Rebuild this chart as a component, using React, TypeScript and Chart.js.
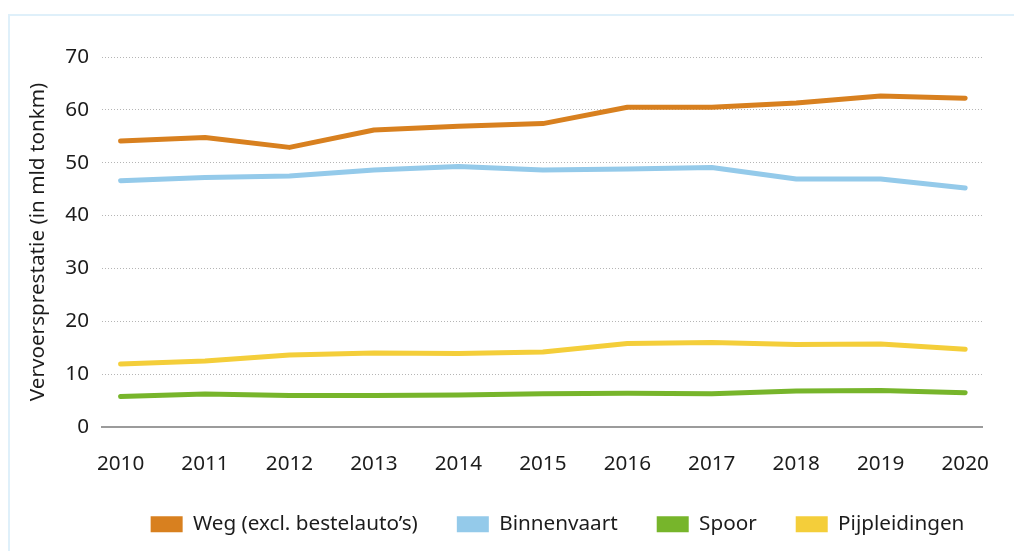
import React, { useEffect, useRef } from "react";
import { Chart, registerables } from "chart.js";

Chart.register(...registerables);

const years = ["2010", "2011", "2012", "2013", "2014", "2015", "2016", "2017", "2018", "2019", "2020"];
const weg = [54.1, 54.75, 52.9, 56.2, 56.9, 57.4, 60.5, 60.5, 61.3, 62.6, 62.2];
const binnenvaart = [46.6, 47.2, 47.5, 48.6, 49.3, 48.6, 48.8, 49.1, 46.9, 46.9, 45.2];
const spoor = [5.75, 6.25, 5.95, 5.95, 6.05, 6.3, 6.4, 6.3, 6.8, 6.9, 6.5];
const pijpleidingen = [11.9, 12.5, 13.6, 14.0, 13.9, 14.2, 15.8, 16.0, 15.6, 15.7, 14.7];
const yTicks = [0, 10, 20, 30, 40, 50, 60, 70];
const seriesNames = ["Weg (excl. bestelauto\u2019s)", "Binnenvaart", "Spoor", "Pijpleidingen"];
const seriesColors = ["#D8801F", "#94CAEA", "#77B52B", "#F4CE3A"];
const yTitle = "Vervoersprestatie (in mld tonkm)";

const FONT = "'Noto Sans', 'Open Sans', sans-serif";
const FS = 20.7;
const TEXT = "#1c1c1c";

const legendPlugin = {
  id: "legendTweak",
  afterInit(chart: any) {
    const legend = chart.legend;
    if (legend && !legend.__patched) {
      const orig = legend.fit.bind(legend);
      legend.fit = function () {
        orig();
        this.height = 76;
      };
      legend.__patched = true;
    }
  },
  afterLayout(chart: any) {
    const legend = chart.legend;
    if (legend) {
      const shift = 55;
      legend.left += shift;
      legend.right += shift;
    }
  },
};

export default function App() {
  const ref = useRef<HTMLCanvasElement | null>(null);

  useEffect(() => {
    if (!ref.current) return;
    const all = [weg, binnenvaart, spoor, pijpleidingen];
    const chart = new Chart(ref.current, {
      type: "line",
      data: {
        datasets: all.map((vals, i) => ({
          label: seriesNames[i],
          data: vals.map((v, j) => ({ x: Number(years[j]), y: v })),
          borderColor: seriesColors[i],
          backgroundColor: seriesColors[i],
          borderWidth: 5,
          borderCapStyle: "round" as const,
          borderJoinStyle: "round" as const,
          pointRadius: 0,
          tension: 0,
          fill: false,
        })),
      },
      options: {
        responsive: false,
        animation: false,
        layout: { padding: { top: 57, right: 9, left: 0, bottom: 0 } },
        plugins: {
          tooltip: { enabled: false },
          legend: {
            position: "bottom",
            labels: {
              boxWidth: 32,
              boxHeight: 16,
              padding: 39,
              color: TEXT,
              font: { family: FONT, size: FS },
              generateLabels: (c: any) => {
                const items = Chart.defaults.plugins.legend.labels.generateLabels(c);
                return items.map((it: any, i: number) => ({
                  ...it,
                  fillStyle: seriesColors[i],
                  strokeStyle: seriesColors[i],
                  lineWidth: 0,
                }));
              },
            },
          },
        },
        scales: {
          x: {
            type: "linear",
            min: 2009.78,
            max: 2020.2,
            afterBuildTicks: (s: any) => {
              s.ticks = years.map((y) => ({ value: Number(y) }));
            },
            afterFit: (s: any) => {
              s.height = 48;
            },
            grid: { display: false, drawTicks: false },
            border: { display: true, color: "#9b9b9b", width: 2 },
            ticks: {
              color: TEXT,
              padding: 25,
              maxRotation: 0,
              autoSkip: false,
              font: { family: FONT, size: FS },
              callback: (v: any) => String(v),
            },
          },
          y: {
            min: 0,
            max: 70,
            afterBuildTicks: (s: any) => {
              s.ticks = yTicks.map((v) => ({ value: v }));
            },
            afterFit: (s: any) => {
              s.width = 102;
            },
            grid: { color: "#b5b5b5", lineWidth: 1, drawTicks: false },
            border: { display: false, dash: [1, 2] },
            title: {
              display: true,
              text: yTitle,
              color: TEXT,
              font: { family: FONT, size: FS },
              padding: { top: 26, bottom: 0 },
            },
            ticks: {
              color: TEXT,
              padding: 13,
              font: { family: FONT, size: FS },
            },
          },
        },
      },
      plugins: [legendPlugin],
    });
    return () => chart.destroy();
  }, []);

  return (
    <div style={{ position: "absolute", left: 0, top: 0, width: 1014, height: 551, overflow: "hidden", background: "#fff" }}>
      <div
        style={{
          position: "absolute",
          left: 8,
          top: 14,
          width: 1100,
          height: 600,
          border: "2px solid #dff0fa",
          boxSizing: "border-box",
        }}
      />
      <canvas ref={ref} width={1014} height={551} style={{ position: "absolute", left: 0, top: 0, width: 1014, height: 551 }} />
    </div>
  );
}
